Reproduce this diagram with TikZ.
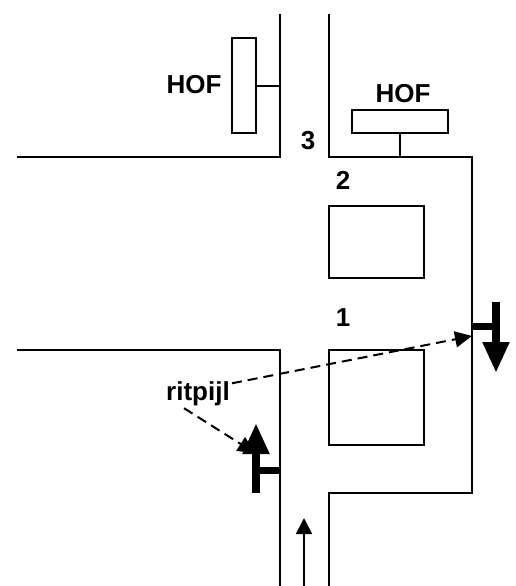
\documentclass[tikz,border=0pt]{standalone}
\usepackage{fontspec}
\setmainfont{Liberation Sans}
\usetikzlibrary{arrows.meta,positioning}

\begin{document}
\begin{tikzpicture}[
			x=1pt, y=-1pt,
			wall/.style={line width=1.8pt},
			block/.style={draw, line width=1.8pt, inner sep=0pt, outer sep=0pt},
			label/.style={font={\bfseries\fontsize{26}{26}\selectfont}, inner sep=0pt, text height=18.5pt, text depth=0pt},
			ritpijl/.style={line width=8pt, -{Triangle[length=31pt,width=25pt]}},
			stem/.style={line width=7pt},
			rijrichting/.style={line width=1.8pt, -{Triangle[length=16pt,width=16pt]}},
			pointer/.style={line width=2pt, dash pattern=on 10pt off 6pt, -{Triangle[length=17pt,width=16pt]}}
	]
	\useasboundingbox (0,0) rectangle (516,586);

	% >> road
	\draw [wall] (280,14) -- (280,157) -- (17,157);
	\draw [wall] (17,350) -- (280,350) -- (280,586);
	\draw [wall] (329,14) -- (329,157) -- (472,157) -- (472,493) -- (329,493) -- (329,586);

	% >> blocks
	\node [block, minimum width=95pt, minimum height=72pt] (huis2) at (376.5,242) {};
	\node [block, minimum width=95pt, minimum height=95pt, below=72pt of huis2] (huis1) {};
	\node [block, minimum width=24pt, minimum height=95pt] (hofleft) at (244,85.5) {};
	\node [block, minimum width=96pt, minimum height=23pt] (hofright) at (400,121.5) {};

	\coordinate (wallleft) at (280,86);
	\coordinate (wallright) at (400,157);
	\draw [wall] (hofleft.east |- wallleft) -- (wallleft);
	\draw [wall] (hofright.south) -- (wallright);

	% >> labels
	\node [label] (hofa) at (194,84) {HOF};
	\node [label] (hofb) at (403,93) {HOF};
	\node [label] (nr3) at (308,140) {3};
	\node [label] (nr2) at (343,180) {2};
	\node [label] (nr1) at (343,317) {1};
	\node [label, text depth=6pt, anchor=base] (pijl) at (198,400) {ritpijl};

	% >> arrows
	\coordinate (a1) at (256,493);
	\coordinate (a2) at (256,423);
	\coordinate (a3) at (256,470);
	\coordinate (a4) at (280,470);
	\coordinate (b1) at (496,302);
	\coordinate (b2) at (496,373);
	\coordinate (b3) at (496,326);
	\coordinate (b4) at (472,326);
	\coordinate (c1) at (304,586);
	\coordinate (c2) at (304,518);
	\coordinate (d1) at (255,453);
	\coordinate (d2) at (472,336);

	\draw [ritpijl] (a1) -- (a2);
	\draw [stem] (a3) -- (a4);
	\draw [ritpijl] (b1) -- (b2);
	\draw [stem] (b3) -- (b4);
	\draw [rijrichting] (c1) -- (c2);
	\draw [pointer] ([xshift=18pt,yshift=-2pt]pijl.south west) -- (d1);
	\draw [pointer] ([xshift=2pt,yshift=-2pt]pijl.north east) -- (d2);
\end{tikzpicture}
\end{document}
